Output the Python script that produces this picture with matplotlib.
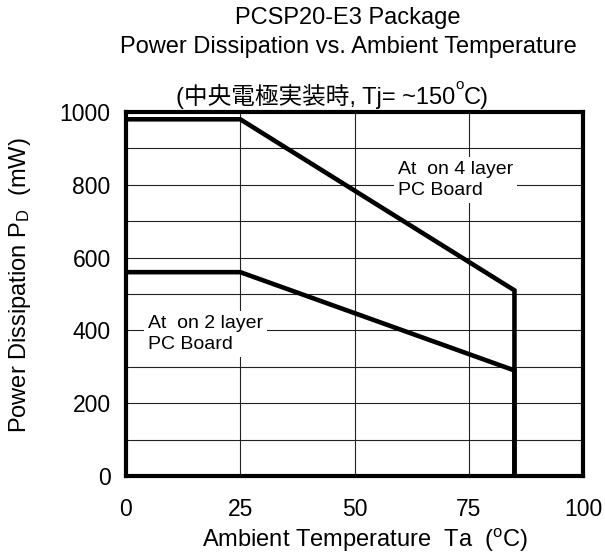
import matplotlib
matplotlib.use("Agg")
import matplotlib.pyplot as plt
from matplotlib.ticker import MultipleLocator

# derating curves (Ta in degC, Pd in mW)
ta_4layer = [0, 25, 85, 85]
pd_4layer = [980, 980, 510, 0]
ta_2layer = [0, 25, 85, 85]
pd_2layer = [560, 560, 290, 0]

x_ticks = [0, 25, 50, 75, 100]
y_ticks = [0, 200, 400, 600, 800, 1000]

plt.rcParams['font.family'] = ['Liberation Sans', 'Noto Sans CJK JP', 'DejaVu Sans']
plt.rcParams['mathtext.fontset'] = 'custom'
plt.rcParams['mathtext.rm'] = 'Liberation Sans'
plt.rcParams['mathtext.it'] = 'Liberation Sans:italic'
plt.rcParams['mathtext.bf'] = 'Liberation Sans:bold'
plt.rcParams['mathtext.default'] = 'regular'

W, H = 605, 554
fig = plt.figure(figsize=(W / 100, H / 100), dpi=100)
ax = fig.add_axes([126 / W, 1 - 476 / H, 457 / W, 364 / H])

ax.plot(ta_4layer, pd_4layer, color='black', lw=3.3, solid_joinstyle='miter', zorder=3)
ax.plot(ta_2layer, pd_2layer, color='black', lw=3.3, solid_joinstyle='miter', zorder=3)

ax.set_xlim(0, 100)
ax.set_ylim(0, 1000)
ax.set_xticks(x_ticks)
ax.set_yticks(y_ticks)
ax.yaxis.set_minor_locator(MultipleLocator(100))
ax.grid(True, which='both', color='#222222', lw=0.8)
ax.set_axisbelow(True)
ax.tick_params(which='both', length=0, labelsize=16.5)
ax.tick_params(axis='x', pad=16)
ax.tick_params(axis='y', pad=11)
for s in ax.spines.values():
    s.set_linewidth(3)

ax.text(59.5, 812, "At  on 4 layer\nPC Board", fontsize=14, va='center', ha='left',
        linespacing=1.3, bbox=dict(facecolor='white', edgecolor='none', pad=3), zorder=2)
ax.text(4.8, 389, "At  on 2 layer\nPC Board", fontsize=14, va='center', ha='left',
        linespacing=1.3, bbox=dict(facecolor='white', edgecolor='none', pad=3), zorder=2)

fig.text(348 / W, 1 - 18 / H, "PCSP20-E3 Package", fontsize=17, ha='center', va='center')
fig.text(348 / W, 1 - 47 / H, "Power Dissipation vs. Ambient Temperature", fontsize=17,
         ha='center', va='center')

# third title line, with a raised "o" for degrees
t1 = fig.text(176 / W, 1 - 104 / H, "(中央電極実装時, Tj= ~150", fontsize=17,
              ha='left', va='baseline')
t2 = ax.annotate("o", xy=(1.0, 0.78), xycoords=t1, fontsize=11, va='baseline',
                 annotation_clip=False)
ax.annotate("C)", xy=(1, 0), xycoords=(t2, t1), fontsize=17, va='bottom',
            annotation_clip=False)

fig.text(20 / W, 1 - 285 / H, r"Power Dissipation P$_{D}$  (mW)", fontsize=17,
         rotation=90, ha='center', va='center')
fig.text(365 / W, 1 - 540 / H, r"Ambient Temperature  Ta  ($^{o}$C)", fontsize=17,
         ha='center', va='center')

fig.savefig("out.png", dpi=100)
